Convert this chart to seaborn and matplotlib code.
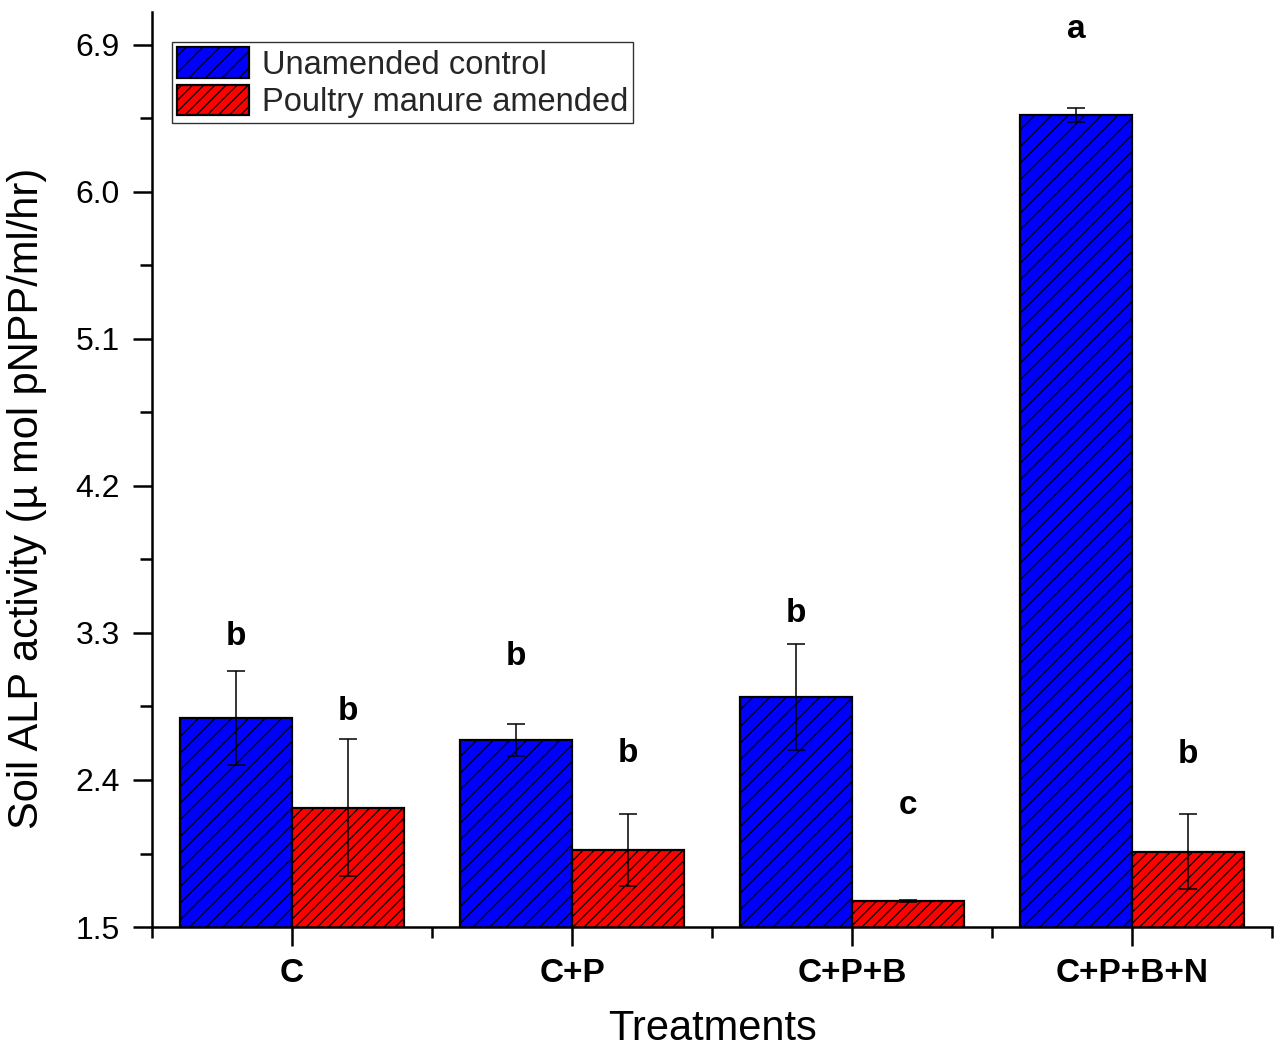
import matplotlib
matplotlib.use("Agg")
import matplotlib.pyplot as plt
import seaborn as sns
import pandas as pd
import numpy as np

# ---- data ----
treatments = ["C", "C+P", "C+P+B", "C+P+B+N"]
groups = ["Unamended control", "Poultry manure amended"]
control_mean = [2.78, 2.645, 2.91, 6.47]
control_err = [0.29, 0.10, 0.325, 0.043]
manure_mean = [2.23, 1.97, 1.66, 1.96]
manure_err = [0.42, 0.22, 0.006, 0.23]
control_letters = ["b", "b", "b", "a"]
manure_letters = ["b", "b", "c", "b"]
control_letter_y = [3.227, 3.104, 3.367, 6.943]
manure_letter_y = [2.767, 2.510, 2.192, 2.504]
yticks = [1.5, 2.4, 3.3, 4.2, 5.1, 6.0, 6.9]

colors = ["#0000FF", "#FF0000"]
hatches = ["//", "///"]

df = pd.DataFrame({
    "Treatment": treatments * 2,
    "Group": [groups[0]] * 4 + [groups[1]] * 4,
    "Value": control_mean + manure_mean,
})

sns.set_theme(style="ticks")
plt.rcParams["font.family"] = ["Liberation Sans", "DejaVu Sans"]
plt.rcParams["hatch.linewidth"] = 0.9
plt.rcParams["hatch.color"] = "black"

fig = plt.figure(figsize=(12.83, 10.55), dpi=100)
ax = fig.add_axes([0.1185, 0.1213, 0.8729, 0.8673])

sns.barplot(data=df, x="Treatment", y="Value", hue="Group", order=treatments,
            hue_order=groups, palette=colors, errorbar=None, width=0.8,
            saturation=1, edgecolor="black", linewidth=1.6, legend=False, ax=ax)

errs = [control_err, manure_err]
letters = [control_letters, manure_letters]
letter_y = [control_letter_y, manure_letter_y]
handles = []
bar_containers = list(ax.containers)
for ci, cont in enumerate(bar_containers):
    xs = []
    hs = []
    for bar in cont:
        bar.set_hatch(hatches[ci])
        bar.set_edgecolor("black")
        xs.append(bar.get_x() + bar.get_width() / 2)
        hs.append(bar.get_height())
    handles.append(cont[0])
    ax.errorbar(xs, hs, yerr=errs[ci], fmt="none", ecolor="black",
                elinewidth=1.1, capsize=6.5, capthick=1.1, zorder=5)
    for x, lt, ly in zip(xs, letters[ci], letter_y[ci]):
        ax.text(x, ly, lt, ha="center", va="baseline", fontsize=24,
                fontweight="bold", color="black", clip_on=False)

ax.set_ylim(1.5, 7.1)
ax.set_xlim(-0.5, 3.5)
ax.set_yticks(yticks)
ax.set_yticklabels([f"{v:.1f}" for v in yticks])
ax.set_yticks([v + 0.45 for v in yticks[:-1]], minor=True)
ax.set_xticks([-0.5, 0.5, 1.5, 2.5, 3.5], minor=True)

ax.tick_params(axis="y", which="major", length=14, width=1.8, direction="out",
               labelsize=23, pad=9, color="black", labelcolor="black")
ax.tick_params(axis="y", which="minor", length=8.5, width=1.8, direction="out", color="black")
ax.tick_params(axis="x", which="major", length=14, width=1.8, direction="out",
               labelsize=24, pad=8, color="black", labelcolor="black")
ax.tick_params(axis="x", which="minor", length=8, width=1.8, direction="out", color="black")
for lab in ax.get_xticklabels():
    lab.set_fontweight("bold")

sns.despine(ax=ax)
for s in ["left", "bottom"]:
    ax.spines[s].set_linewidth(1.8)
    ax.spines[s].set_color("black")

ax.set_xlabel("Treatments", fontsize=30, labelpad=15, color="black")
ax.set_ylabel("Soil ALP activity (\u00b5 mol pNPP/ml/hr)", fontsize=30, color="black")
ax.yaxis.set_label_coords(-0.094, 0.469)

leg = ax.legend(handles=handles, labels=groups, loc="upper left",
                bbox_to_anchor=(0.0179, 0.967), fontsize=23.5, frameon=True,
                fancybox=False, shadow=False, handlelength=2.2, handleheight=1.07,
                handletextpad=0.4, labelspacing=0.12, borderpad=0.15,
                borderaxespad=0.0)
leg.get_frame().set_edgecolor("#333333")
leg.get_frame().set_linewidth(1.0)
leg.get_frame().set_alpha(1)

fig.savefig("out.png", dpi=100)
